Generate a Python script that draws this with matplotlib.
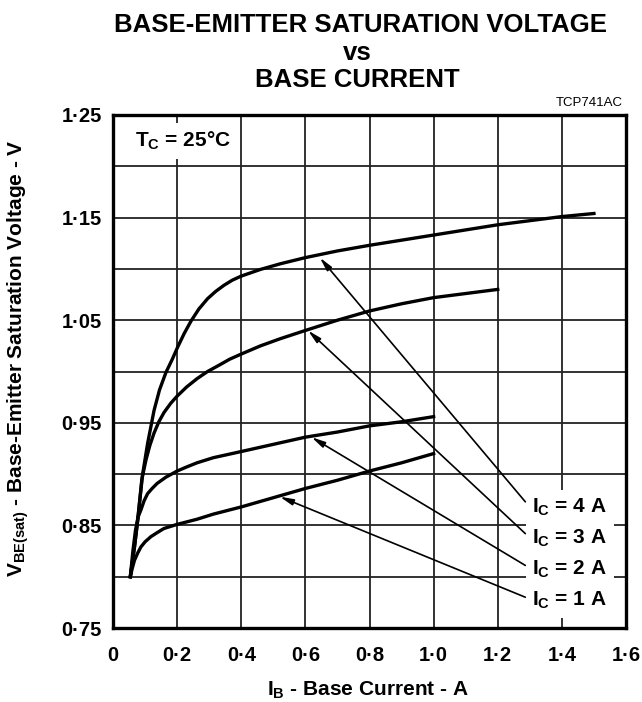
import matplotlib
matplotlib.use("Agg")
import matplotlib.pyplot as plt

plt.rcParams["font.family"] = "Liberation Sans"
plt.rcParams["font.weight"] = "bold"
plt.rcParams["mathtext.fontset"] = "custom"
plt.rcParams["mathtext.rm"] = "Liberation Sans:bold"
plt.rcParams["mathtext.it"] = "Liberation Sans:bold"
plt.rcParams["mathtext.bf"] = "Liberation Sans:bold"

# I_B (A) vs V_BE(sat) (V)
ib_4a = [0.054, 0.067, 0.077, 0.092, 0.108, 0.128, 0.145, 0.165, 0.185, 0.202, 0.222, 0.243, 0.268,
         0.295, 0.320, 0.346, 0.372, 0.400, 0.46, 0.522, 0.6, 0.7, 0.8, 0.9, 1.0, 1.2, 1.4, 1.5]
vbe_4a = [0.80, 0.829, 0.855, 0.899, 0.930, 0.962, 0.982, 0.999, 1.012, 1.024, 1.037, 1.049, 1.061,
          1.071, 1.078, 1.084, 1.089, 1.093, 1.0995, 1.105, 1.111, 1.1175, 1.123, 1.128, 1.133, 1.143, 1.151, 1.154]

ib_3a = [0.054, 0.067, 0.077, 0.090, 0.103, 0.115, 0.128, 0.143, 0.159, 0.180, 0.200, 0.230, 0.262,
         0.295, 0.330, 0.364, 0.400, 0.46, 0.522, 0.6, 0.7, 0.8, 0.9, 1.0, 1.1, 1.2]
vbe_3a = [0.80, 0.829, 0.855, 0.895, 0.914, 0.928, 0.940, 0.951, 0.960, 0.969, 0.976, 0.985, 0.993,
          1.000, 1.006, 1.012, 1.017, 1.025, 1.032, 1.040, 1.050, 1.059, 1.066, 1.072, 1.076, 1.080]

ib_2a = [0.054, 0.062, 0.070, 0.078, 0.087, 0.097, 0.108, 0.122, 0.138, 0.165, 0.200, 0.230, 0.262,
         0.313, 0.400, 0.5, 0.6, 0.7, 0.8, 0.9, 1.0]
vbe_2a = [0.80, 0.825, 0.845, 0.858, 0.865, 0.874, 0.881, 0.886, 0.891, 0.897, 0.903, 0.907, 0.911,
          0.916, 0.922, 0.929, 0.936, 0.941, 0.947, 0.951, 0.956]

ib_1a = [0.054, 0.060, 0.067, 0.077, 0.087, 0.100, 0.118, 0.138, 0.159, 0.200, 0.262, 0.313, 0.400,
         0.5, 0.6, 0.7, 0.8, 0.9, 1.0]
vbe_1a = [0.80, 0.808, 0.816, 0.823, 0.829, 0.834, 0.839, 0.843, 0.847, 0.851, 0.856, 0.861, 0.868,
          0.877, 0.886, 0.894, 0.903, 0.911, 0.920]

curves = [(ib_4a, vbe_4a), (ib_3a, vbe_3a), (ib_2a, vbe_2a), (ib_1a, vbe_1a)]

ic_labels = ["4 A", "3 A", "2 A", "1 A"]
label_x = 1.308
label_y = [0.862, 0.832, 0.802, 0.772]
arrow_tip_x = [0.645, 0.608, 0.619, 0.520]
arrow_tip_y = [1.111, 1.040, 0.936, 0.878]
arrow_tail_x = 1.286
arrow_tail_y = [0.873, 0.842, 0.811, 0.780]

x_ticks = [0, 0.2, 0.4, 0.6, 0.8, 1.0, 1.2, 1.4, 1.6]
x_tick_labels = ["0", "0·2", "0·4", "0·6", "0·8", "1·0", "1·2", "1·4", "1·6"]
y_ticks = [0.75, 0.85, 0.95, 1.05, 1.15, 1.25]
y_tick_labels = ["0·75", "0·85", "0·95", "1·05", "1·15", "1·25"]
y_minor = [0.8, 0.9, 1.0, 1.1, 1.2]


fig = plt.figure(figsize=(6.42, 7.02), dpi=100)
ax = fig.add_axes([113 / 642, 1 - 628 / 702, 513 / 642, 513 / 702])

for ib, vbe in curves:
    ax.plot(ib, vbe, color="black", lw=2.4, solid_joinstyle="round", zorder=4)

ax.set_xlim(0, 1.6)
ax.set_ylim(0.75, 1.25)
ax.set_xticks(x_ticks)
ax.set_xticklabels(x_tick_labels, fontsize=14.5)
ax.set_yticks(y_ticks)
ax.set_yticklabels(y_tick_labels, fontsize=14.5)
ax.set_yticks(y_minor, minor=True)
ax.tick_params(which="both", length=0)
ax.tick_params(axis="x", pad=13)
ax.tick_params(axis="y", pad=8)
ax.grid(True, which="both", color="#222222", lw=1.3)
ax.set_axisbelow(True)
for sp in ax.spines.values():
    sp.set_linewidth(2.4)
    sp.set_zorder(6)

# T_C box
ax.text(0.069, 1.219, "T$_\\mathrm{C}$ = 25°C", fontsize=15, va="baseline",
        bbox=dict(fc="white", ec="none", pad=5), zorder=3)

for i in range(4):
    ax.text(label_x, label_y[i], "I$_\\mathrm{C}$ = " + ic_labels[i], fontsize=15,
            va="baseline", bbox=dict(fc="white", ec="none", pad=5), zorder=3)
    ax.annotate("", xy=(arrow_tip_x[i], arrow_tip_y[i]),
                xytext=(arrow_tail_x, arrow_tail_y[i]),
                arrowprops=dict(arrowstyle="-|>,head_length=0.8,head_width=0.18",
                                color="black", lw=1.2, shrinkA=0, shrinkB=0),
                zorder=5)

fig.text(0.561, 0.955, "BASE-EMITTER SATURATION VOLTAGE", fontsize=18.5, ha="center", va="baseline")
fig.text(0.557, 0.9145, "vs", fontsize=18.5, ha="center", va="baseline")
fig.text(0.557, 0.8756, "BASE CURRENT", fontsize=18.5, ha="center", va="baseline")
fig.text(623 / 642, 1 - 106 / 702, "TCP741AC", fontsize=9.5, fontweight="normal",
         ha="right", va="baseline")

fig.text(0.573, 0.009, "I$_\\mathrm{B}$ - Base Current - A", fontsize=15, ha="center", va="baseline")
fig.text(0.028, 0.49, "V$_\\mathrm{BE(sat)}$ - Base-Emitter Saturation Voltage - V", fontsize=15,
         rotation=90, ha="center", va="center")

fig.savefig("out.png", dpi=100)
